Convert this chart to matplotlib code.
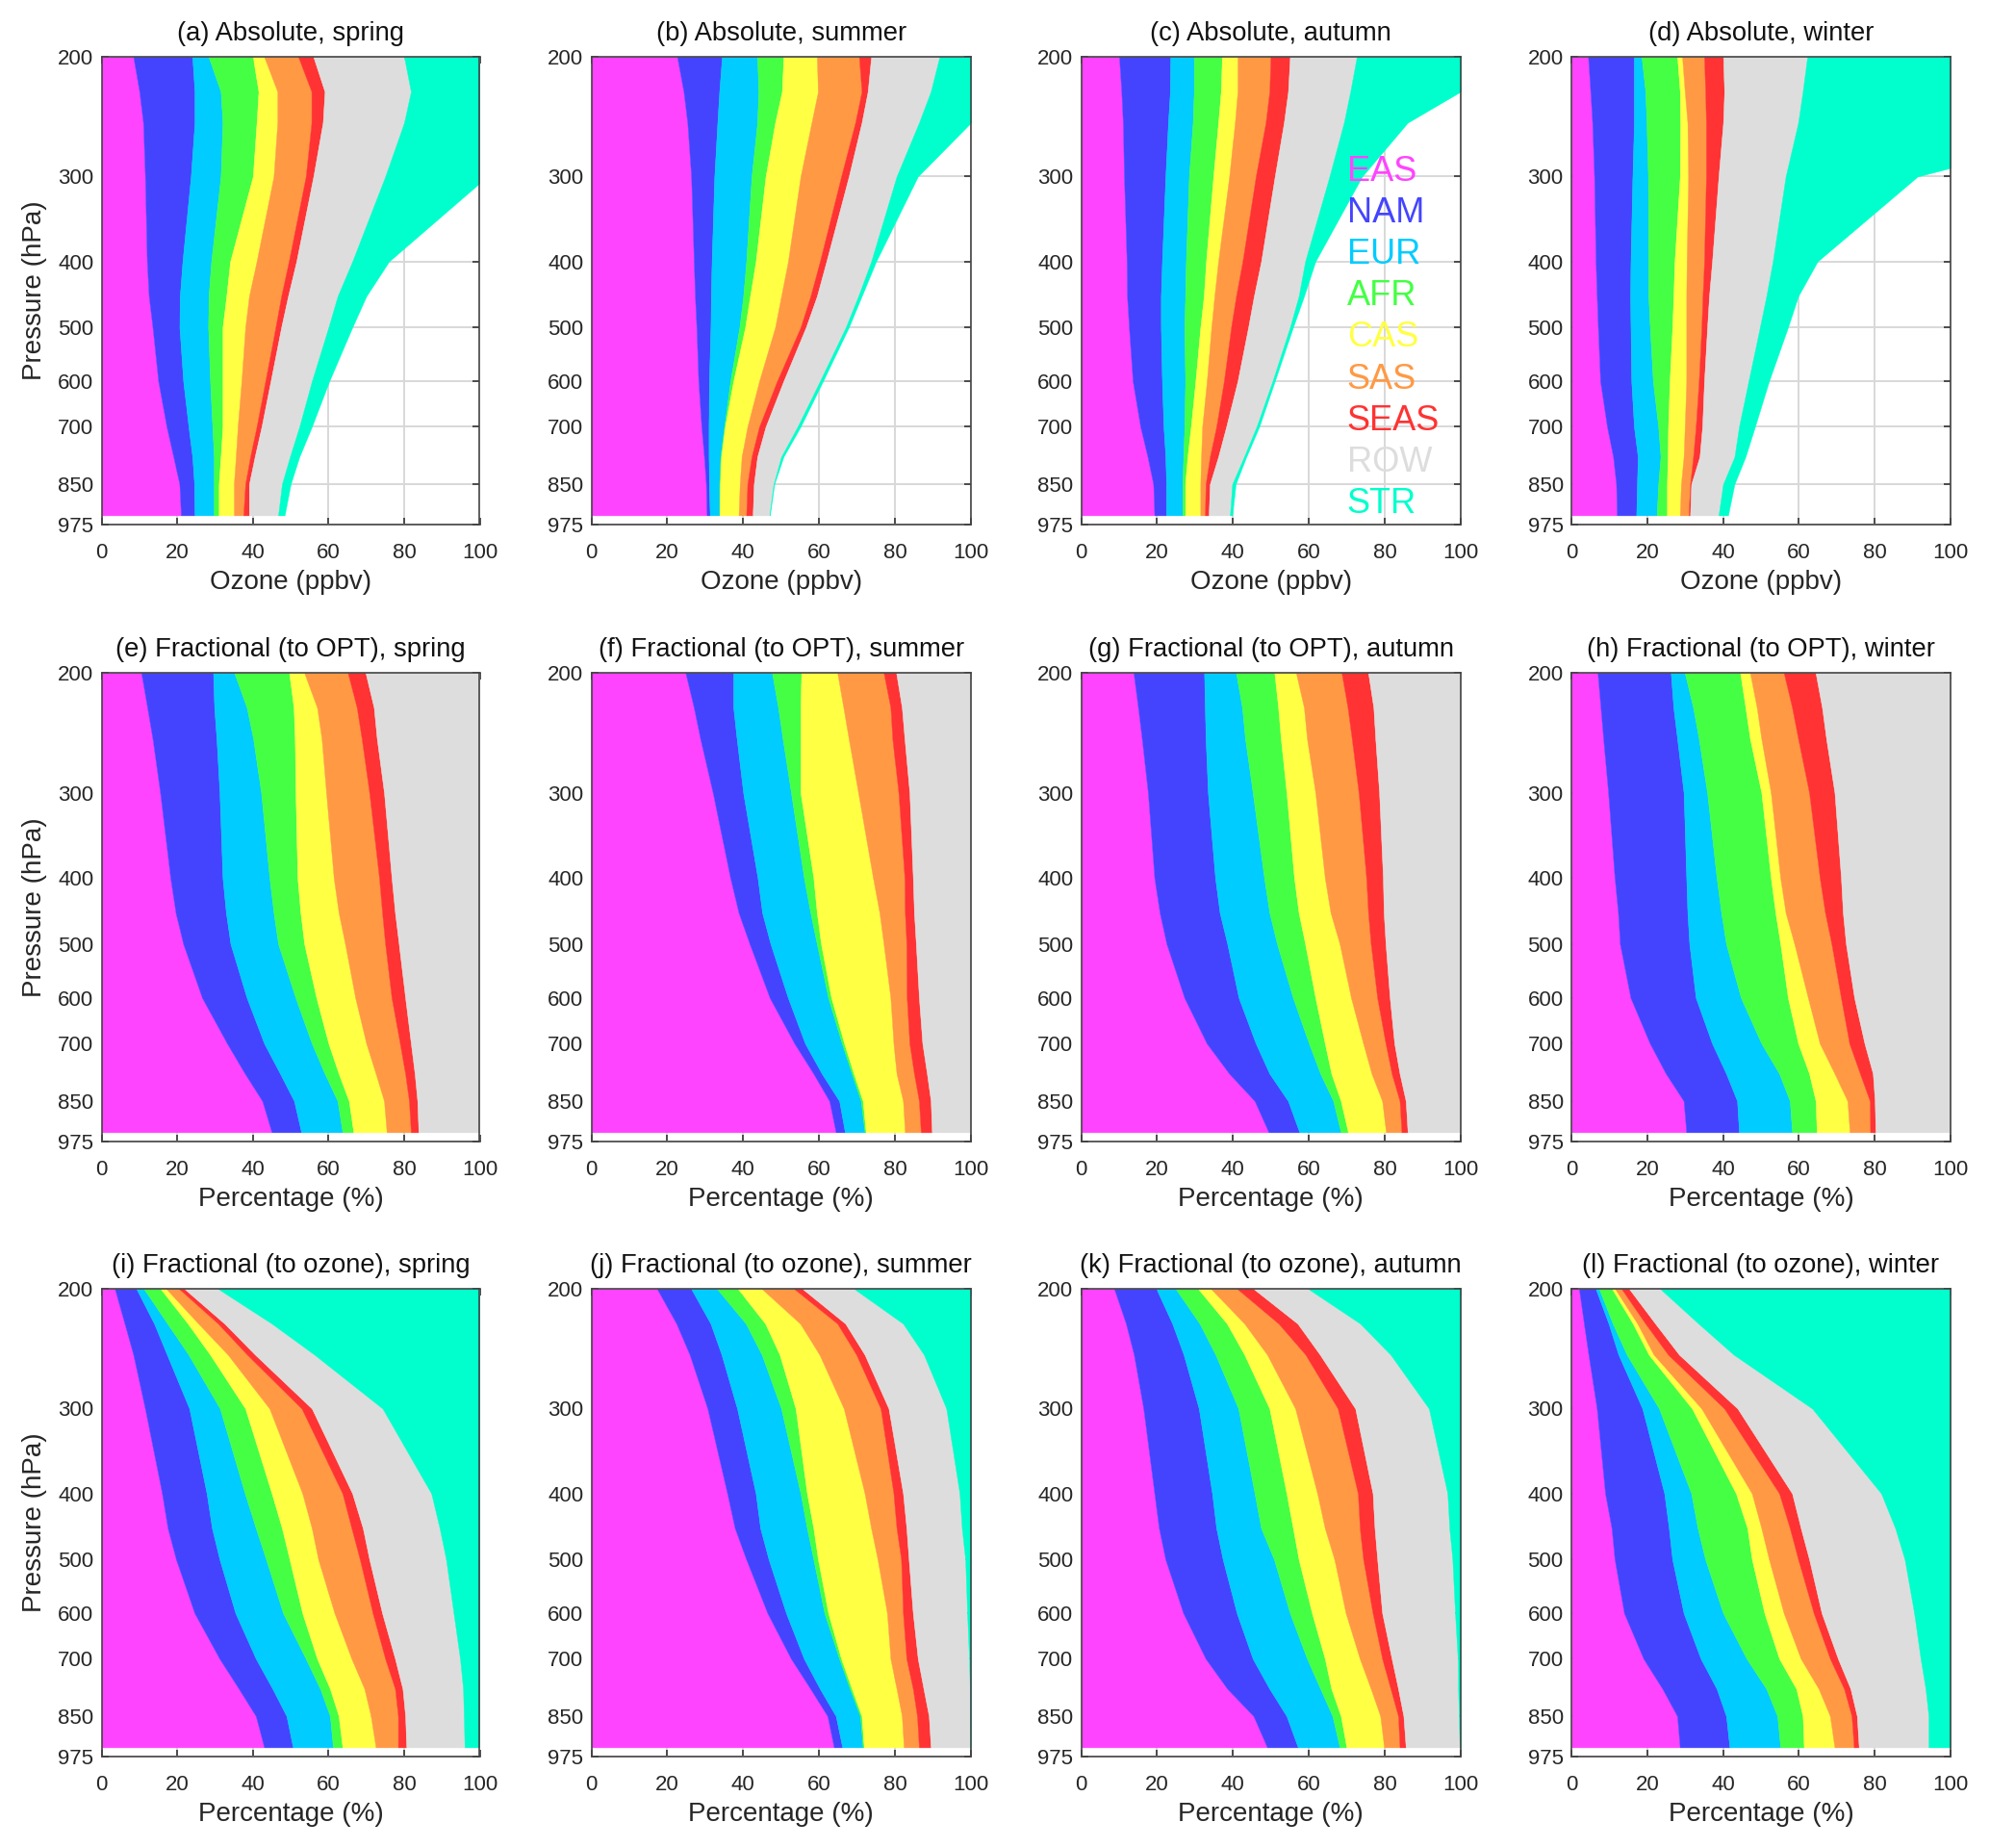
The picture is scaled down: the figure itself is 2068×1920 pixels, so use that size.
import matplotlib
matplotlib.use("Agg")
import matplotlib.pyplot as plt
from matplotlib.ticker import FixedLocator, FixedFormatter, NullLocator

plt.rcParams['font.family'] = ['Liberation Sans', 'DejaVu Sans']

LEVELS = [200, 225, 250, 300, 400, 450, 500, 600, 700, 775, 850, 945]
YTICKS = [200, 300, 400, 500, 600, 700, 850, 975]
XTICKS = [0, 20, 40, 60, 80, 100]
REGIONS = ['EAS', 'NAM', 'EUR', 'AFR', 'CAS', 'SAS', 'SEAS', 'ROW', 'STR']
COLORS = ['#FF44FF', '#4444FF', '#00CCFF', '#44FF44', '#FFFF44', '#FF9944', '#FF3333', '#DDDDDD', '#00FFCC']
SEASONS = ['spring', 'summer', 'autumn', 'winter']
LETTERS = 'abcdefghijkl'
ROW_TITLES = ['Absolute', 'Fractional (to OPT)', 'Fractional (to ozone)']
ROW_XLABELS = ['Ozone (ppbv)', 'Percentage (%)', 'Percentage (%)']
HUNDRED = [100] * 12

# Cumulative upper edge of each region at each level
a_EAS = [8.4, 10, 11, 11.5, 12, 12.5, 13.5, 15, 17.2, 19, 20.6, 21]
a_NAM = [24, 24.6, 24.6, 23.6, 21.4, 20.7, 20.6, 21.6, 23, 24, 24.5, 24.6]
a_EUR = [28.3, 31.5, 32, 31.5, 29, 28.3, 28.2, 28.7, 29.3, 29.7, 29.7, 29.7]
a_AFR = [40, 41.5, 41, 40, 34, 33, 32, 32, 32, 31.5, 31, 31]
a_CAS = [43, 46.5, 46.5, 45.5, 41, 39, 38, 37, 36, 35.5, 35, 35]
a_SAS = [52, 55.5, 55.5, 54, 49.5, 47.5, 46, 43.3, 41, 39.3, 38, 37.5]
a_SEAS = [56, 59, 58.5, 56, 51.5, 49.3, 47.5, 44.7, 42.3, 40.5, 39, 39]
a_ROW = [80, 81.8, 80, 75, 66.3, 62.4, 60, 55.6, 52.3, 49.8, 47.7, 46.7]
a_STR = [130, 125, 115, 102, 76, 70, 66.3, 60.2, 55.6, 52.3, 50, 48.4]

b_EAS = [22.6, 24.3, 25.3, 26.3, 27, 27.3, 27.7, 28.2, 29, 29.7, 30.2, 30.4]
b_NAM = [34.4, 33.7, 33.2, 32.4, 31.7, 31.5, 31.4, 31, 30.9, 30.9, 31, 31.2]
b_EUR = [43.7, 44, 43.7, 42.2, 40.8, 40, 39, 36.6, 35, 34, 33.7, 33.7]
b_AFR = [50.6, 50.2, 48.4, 45.9, 43.3, 41.8, 40.5, 37.4, 35.2, 34.2, 33.9, 33.8]
b_CAS = [59.4, 59.7, 58, 55.1, 51.8, 50, 48.4, 44.2, 41.1, 39.6, 39.1, 38.8]
b_SAS = [70.5, 71.2, 69.5, 65.8, 60.2, 57.7, 55.1, 48.9, 44.2, 42.2, 41.1, 40.8]
b_SEAS = [73.7, 72.8, 71.2, 67.8, 61.9, 59.4, 56.5, 50.6, 45.9, 43.7, 42.8, 42.5]
b_ROW = [91.7, 89.4, 86.3, 80.4, 73.7, 70.3, 67, 60.2, 54.3, 50, 48, 46.9]
b_STR = [103, 101.5, 100, 86, 75, 71.2, 67.8, 61, 55.1, 50.6, 48.2, 47]

c_EAS = [10, 10.6, 11, 11.3, 12, 12.1, 12.6, 13.6, 15.6, 17.5, 19, 19.3]
c_NAM = [23.5, 23.4, 22.9, 22.2, 21.3, 21, 21, 21.3, 21.7, 22.2, 22.4, 22.4]
c_EUR = [29.7, 29.7, 29.4, 28.4, 27.6, 27.4, 27.2, 27.4, 27.2, 26.9, 26.7, 26.7]
c_AFR = [37.1, 36.8, 36.1, 34.8, 32.9, 32.3, 31.4, 30.1, 28.9, 28, 27.4, 27.4]
c_CAS = [41.2, 41.2, 40.5, 39, 36.1, 35.1, 34.3, 33.1, 31.9, 31.6, 31.4, 31.4]
c_SAS = [49.9, 49.6, 48.6, 46, 42.5, 40.8, 39.5, 37.6, 35.6, 33.9, 32.8, 32.6]
c_SEAS = [55, 54.5, 53.4, 51, 47.4, 45.5, 44, 41.2, 38.2, 36.1, 33.9, 33.6]
c_ROW = [72.6, 70.9, 69.2, 65.4, 59, 57.3, 55, 50.4, 46.2, 42.9, 39.8, 39.2]
c_STR = [110, 100, 86, 74, 61.7, 58.7, 55.8, 51, 46.9, 43.5, 40.7, 39.8]

d_EAS = [4.4, 5, 5.5, 6, 6.4, 6.7, 7, 7.6, 9.4, 11, 11.8, 12]
d_NAM = [16.5, 16.5, 16.5, 16.1, 15.6, 15.5, 15.6, 15.8, 16.5, 17.5, 17.3, 17.1]
d_EUR = [18.5, 19.5, 19.8, 20.2, 20.3, 20.3, 20.7, 21.5, 22.9, 23.5, 22.9, 22.5]
d_AFR = [27.9, 28.6, 28.7, 28.6, 27.2, 26.9, 26.6, 25.9, 25.5, 25.4, 25.2, 25.2]
d_CAS = [29.2, 29.9, 30.6, 30.8, 30.4, 30.3, 30.3, 30.3, 29.9, 29.6, 28.9, 28.6]
d_SAS = [35, 35.3, 35.5, 35.5, 35, 34.6, 34.3, 33.6, 32.8, 32.1, 31.3, 30.9]
d_SEAS = [40, 40.3, 40, 38.8, 37.1, 36.3, 35.8, 35, 34.5, 33.8, 31.6, 31.3]
d_ROW = [62.2, 61, 59.8, 56.5, 53.1, 51.4, 49.7, 46.7, 44.2, 43, 40, 38.8]
d_STR = [170, 160, 146, 91.3, 64.9, 59.8, 57.1, 52.1, 48.4, 45.9, 43, 41.3]

e_EAS = [10.5, 12.1, 13.5, 15.5, 18.2, 19.6, 21.6, 26.6, 33.2, 37.9, 42.5, 45]
e_NAM = [29.5, 29.8, 30.4, 31.2, 32, 32.9, 34.1, 38.4, 43, 47.2, 50.9, 52.8]
e_EUR = [35.1, 38.4, 40.1, 42.2, 44.4, 45.5, 46.7, 51.3, 55.6, 59, 62.4, 63.7]
e_AFR = [49.6, 50.8, 51.1, 51.3, 51.8, 52.6, 53.6, 56.8, 60, 62.7, 65.4, 66.6]
e_CAS = [53.6, 57, 58.2, 59.4, 61.4, 62.7, 64.4, 67.1, 70, 72.5, 74.7, 75.4]
e_SAS = [65.1, 67.5, 68.8, 70.8, 73.4, 74.2, 75, 76.7, 78.9, 80.3, 81.3, 81.8]
e_SEAS = [69.8, 72, 72.8, 74.7, 76.7, 77.6, 78.6, 80.3, 81.8, 82.8, 83.5, 83.8]

f_EAS = [24.8, 27, 28.7, 32, 36.6, 38.8, 41.7, 47, 53.5, 58.5, 62.7, 64.4]
f_NAM = [37.4, 37.4, 38.3, 40, 43.8, 45, 47.2, 51.8, 56.3, 60.7, 65.3, 66.8]
f_EUR = [47.6, 49.2, 50.4, 52.6, 56, 57.7, 59.4, 62.4, 66, 68.6, 71, 72]
f_AFR = [55.3, 55.1, 55.1, 55.1, 58.5, 59.4, 60.5, 63.2, 66.6, 69.1, 71.5, 72.3]
f_CAS = [64.8, 66.4, 67.8, 70.3, 74.2, 75.9, 77, 78.8, 79.6, 80.4, 82.1, 82.6]
f_SAS = [77, 78.8, 79.3, 80.9, 82.5, 82.6, 83, 83.1, 83.8, 85, 86.3, 86.8]
f_SEAS = [80.3, 81.8, 82.5, 83.8, 84.7, 85, 85.5, 86.3, 87.2, 88.4, 89.4, 89.7]

g_EAS = [13.8, 15, 16, 17.6, 19.3, 20.7, 22.5, 27.2, 33.1, 39, 45.7, 49.4]
g_NAM = [32.4, 32.6, 32.8, 33.4, 35.3, 36.5, 38.5, 41.5, 46, 49.6, 54.5, 57.5]
g_EUR = [40.8, 42.4, 43.2, 45.2, 48.2, 49.6, 51.6, 55.8, 60, 63, 66.4, 68.4]
g_AFR = [50.9, 51.9, 52.6, 54.1, 56.1, 57.3, 59, 61.7, 64.2, 65.9, 68.4, 70.3]
g_CAS = [56.6, 58.7, 59.5, 61.7, 64.2, 65.7, 68.1, 71.1, 74.3, 76.5, 79.3, 80.3]
g_SAS = [68.6, 70.2, 71.3, 73.1, 75.1, 75.6, 76.3, 78, 80.2, 81.8, 83.9, 84.4]
g_SEAS = [75.6, 77, 77.5, 78.5, 79.5, 79.7, 80.2, 81.3, 82.5, 83.9, 85.5, 86]

h_EAS = [6.9, 7.7, 8.4, 9.7, 11.4, 12.3, 12.8, 15.6, 20.7, 24.9, 29.6, 30.3]
h_NAM = [26.2, 26.9, 27.9, 29.6, 30.3, 30.6, 31.1, 32.8, 37.1, 40.8, 43.7, 44.2]
h_EUR = [29.9, 32.1, 33.6, 35.8, 38.3, 39.5, 40.8, 44.7, 50.1, 54.8, 57.6, 58.2]
h_AFR = [44.5, 45.9, 47.1, 50.1, 52.6, 53.8, 55.1, 57.1, 59.8, 62.7, 64.4, 64.7]
h_CAS = [47.1, 48.9, 50.1, 52.6, 55.1, 56.5, 58.8, 62.4, 65.5, 69.4, 72.8, 73.4]
h_SAS = [56, 58.2, 59.8, 62.7, 65.5, 66.9, 68.6, 71.1, 73.3, 76.1, 78.7, 78.8]
h_SEAS = [64.4, 66.1, 67.2, 69.4, 71.1, 71.6, 72.4, 74.6, 77.3, 79.5, 80, 80.2]

i_EAS = [3.5, 6.1, 8.4, 11.5, 16, 17.5, 19.7, 24.6, 31.2, 36.3, 40.8, 43]
i_NAM = [9.2, 13.9, 17.3, 23.2, 27.8, 29.2, 31.2, 35.4, 40.8, 45.2, 48.9, 50.6]
i_EUR = [11.2, 17.4, 23, 31.3, 37.9, 40.8, 43.5, 48, 54, 57.8, 60.4, 61.2]
i_AFR = [15.6, 22.8, 28.7, 38, 45, 47.7, 49.7, 53.1, 57, 60.4, 62.7, 63.7]
i_CAS = [17.1, 25.6, 33.4, 44.4, 53.1, 55.6, 57.3, 61.6, 66.1, 69.5, 71.2, 72.5]
i_SAS = [20.5, 30.8, 38.5, 52.9, 63.7, 66.1, 68.3, 71.7, 75, 77.6, 78.4, 78.4]
i_SEAS = [21.9, 32.5, 40.6, 55.6, 66.3, 69.1, 70.8, 74.2, 77.6, 79.6, 80.3, 80.6]
i_ROW = [30.8, 45, 56.3, 74.3, 87.2, 89.4, 91.1, 93.1, 94.8, 95.6, 95.8, 96]

j_EAS = [17.3, 22.4, 25.9, 30.6, 35.8, 37.8, 40.8, 46.4, 52.6, 57.7, 62.2, 63.9]
j_NAM = [26.3, 31.4, 34.3, 38.4, 43.3, 44.5, 46.7, 51.3, 56, 60.2, 64.4, 66.1]
j_EUR = [33.1, 40.7, 44.9, 50, 55.1, 56.8, 58.5, 61.4, 65.3, 68.1, 70.8, 71.5]
j_AFR = [38.6, 45.8, 49.6, 53.8, 56.8, 58.5, 59.7, 62.4, 65.8, 68.6, 71.2, 71.8]
j_CAS = [44.9, 55, 60.1, 66.5, 72, 73.7, 75.4, 77.9, 78.8, 80.4, 81.8, 82.3]
j_SAS = [53.4, 64.8, 69.8, 76.2, 79.6, 80.4, 81.6, 82.1, 83, 84.7, 85.8, 86.3]
j_SEAS = [55.6, 66.9, 72, 78.3, 82.1, 83, 83.6, 84.7, 86, 87.5, 88.9, 89.4]
j_ROW = [69.2, 82.1, 87.6, 93.5, 97, 97.6, 98.5, 99, 99.5, 99.7, 99.7, 99.8]

k_EAS = [8.7, 11.8, 13.9, 16.4, 19.3, 20.5, 22.2, 26.9, 32.8, 38.5, 45.4, 49]
k_NAM = [19.8, 24, 27, 31, 34.5, 35.6, 37.3, 41, 45.2, 49.6, 54.1, 57.1]
k_EUR = [24.9, 31.2, 35.4, 41.4, 45.7, 47.4, 50.8, 55, 59.5, 63, 66.2, 68.1]
k_AFR = [30.8, 38.4, 43, 49.6, 54.1, 55.8, 57.3, 60.8, 64.2, 65.9, 68.4, 69.9]
k_CAS = [34.2, 43, 49, 56.4, 62.2, 64.2, 66.7, 69.7, 73.4, 76.3, 78.8, 79.8]
k_SAS = [41.1, 52, 59.1, 67.6, 72.9, 73.4, 74.3, 76.8, 79.3, 81.5, 83.5, 83.9]
k_SEAS = [45.4, 57, 62.9, 72.2, 76.8, 77.3, 78, 79.3, 81.8, 83.5, 84.9, 85.5]
k_ROW = [59.8, 73.5, 81.5, 91.6, 96.5, 97, 97.8, 98.5, 99.2, 99.3, 99.5, 99.7]

l_EAS = [2, 3.3, 4.5, 6.7, 8.9, 10.6, 11.4, 13.9, 19, 24, 27.9, 28.6]
l_NAM = [6.4, 9.8, 12.4, 18.7, 24.5, 25.7, 26.6, 29.6, 34.1, 38.3, 40.8, 41.7]
l_EUR = [7.3, 10.9, 14.6, 23.1, 31.6, 33.3, 35.3, 40, 46.2, 51.4, 54.3, 55.1]
l_AFR = [10.7, 16.2, 20.4, 31.8, 43.4, 46.4, 47.6, 50.9, 54.8, 59.3, 61, 61.3]
l_CAS = [11.5, 17.4, 21.7, 34.3, 47.6, 50.1, 52.1, 56, 60.5, 65.2, 68.2, 69.4]
l_SAS = [13.2, 19.5, 25.5, 40.3, 54.8, 57.6, 59.8, 63.9, 68.2, 71.9, 73.9, 74.5]
l_SEAS = [15.2, 22.1, 28.4, 43.8, 58.2, 60.5, 62.7, 66, 70.3, 73.6, 75.3, 75.8]
l_ROW = [23.4, 33.5, 42.8, 63.5, 81.7, 85.4, 87.9, 90.4, 92.1, 93.4, 94.2, 94.2]

PANELS = {
    'a': [a_EAS, a_NAM, a_EUR, a_AFR, a_CAS, a_SAS, a_SEAS, a_ROW, a_STR],
    'b': [b_EAS, b_NAM, b_EUR, b_AFR, b_CAS, b_SAS, b_SEAS, b_ROW, b_STR],
    'c': [c_EAS, c_NAM, c_EUR, c_AFR, c_CAS, c_SAS, c_SEAS, c_ROW, c_STR],
    'd': [d_EAS, d_NAM, d_EUR, d_AFR, d_CAS, d_SAS, d_SEAS, d_ROW, d_STR],
    'e': [e_EAS, e_NAM, e_EUR, e_AFR, e_CAS, e_SAS, e_SEAS, HUNDRED],
    'f': [f_EAS, f_NAM, f_EUR, f_AFR, f_CAS, f_SAS, f_SEAS, HUNDRED],
    'g': [g_EAS, g_NAM, g_EUR, g_AFR, g_CAS, g_SAS, g_SEAS, HUNDRED],
    'h': [h_EAS, h_NAM, h_EUR, h_AFR, h_CAS, h_SAS, h_SEAS, HUNDRED],
    'i': [i_EAS, i_NAM, i_EUR, i_AFR, i_CAS, i_SAS, i_SEAS, i_ROW, HUNDRED],
    'j': [j_EAS, j_NAM, j_EUR, j_AFR, j_CAS, j_SAS, j_SEAS, j_ROW, HUNDRED],
    'k': [k_EAS, k_NAM, k_EUR, k_AFR, k_CAS, k_SAS, k_SEAS, k_ROW, HUNDRED],
    'l': [l_EAS, l_NAM, l_EUR, l_AFR, l_CAS, l_SAS, l_SEAS, l_ROW, HUNDRED],
}

W, H = 2068, 1920
COL_X = [(105.5, 498.5), (614.5, 1009), (1123.5, 1518), (1633, 2027)]
ROW_Y = [(59, 545), (699, 1186), (1339, 1825)]

fig = plt.figure(figsize=(W / 100, H / 100), dpi=100, facecolor='white')

for idx, letter in enumerate(LETTERS):
    r, c = idx // 4, idx % 4
    x0, x1 = COL_X[c]
    y0, y1 = ROW_Y[r]
    ax = fig.add_axes([x0 / W, 1 - y1 / H, (x1 - x0) / W, (y1 - y0) / H])
    ax.set_axisbelow(True)
    prev = [0] * len(LEVELS)
    for edge, color in zip(PANELS[letter], COLORS):
        ax.fill_betweenx(LEVELS, prev, edge, facecolor=color, edgecolor=color, linewidth=0.3)
        prev = edge
    ax.set_yscale('log')
    ax.set_ylim(975, 200)
    ax.set_xlim(0, 100)
    ax.yaxis.set_major_locator(FixedLocator(YTICKS))
    ax.yaxis.set_major_formatter(FixedFormatter([str(t) for t in YTICKS]))
    ax.yaxis.set_minor_locator(NullLocator())
    ax.set_xticks(XTICKS)
    ax.grid(True, color='#d8d8d8', linewidth=1.4)
    ax.tick_params(axis='both', direction='in', length=5, width=1.2, color='#333333',
                   labelsize=16, labelcolor='#262626', top=True, right=True, pad=6)
    ax.tick_params(axis='x', pad=14)
    for s in ax.spines.values():
        s.set_color('#444444')
        s.set_linewidth(1.2)
    ax.set_title(f"({letter}) {ROW_TITLES[r]}, {SEASONS[c]}", fontsize=19.7, color='#111111', pad=12)
    ax.set_xlabel(ROW_XLABELS[r], fontsize=20, color='#262626', labelpad=5)
    if c == 0:
        ax.set_ylabel('Pressure (hPa)', fontsize=20, color='#262626', labelpad=8)
    if letter == 'c':
        for k, (name, color) in enumerate(zip(REGIONS, COLORS)):
            ax.text(0.70, 0.754 - k * 0.0887, name, color=color, fontsize=26,
                    transform=ax.transAxes, ha='left', va='center')

fig.savefig('out.png', dpi=100, facecolor='white')
